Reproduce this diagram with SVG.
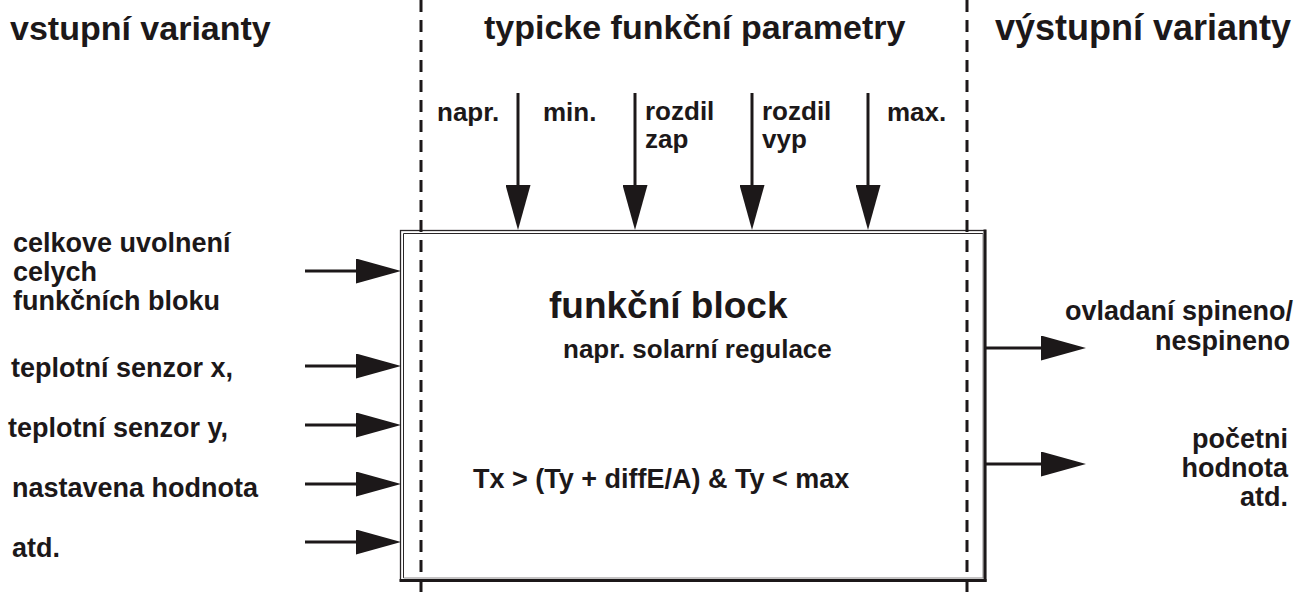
<svg xmlns="http://www.w3.org/2000/svg" width="1302" height="597" viewBox="0 0 1302 597">
<style>
text{font-family:"Liberation Sans",Arial,Helvetica,sans-serif;font-weight:bold;fill:#1c1819}
.t{font-size:34px}
.l{font-size:27px}
.p{font-size:26px}
.c{stroke:#1c1819;stroke-width:3;fill:none}
.d{stroke:#1c1819;stroke-width:3;fill:none;stroke-dasharray:12 8}
</style>
<defs>
<marker id="ah" markerUnits="userSpaceOnUse" markerWidth="45" markerHeight="25" refX="25" refY="12.5" orient="auto">
<path d="M0,0 L45,12.5 L0,25 Z" fill="#1c1819"/>
</marker>
</defs>
<rect width="1302" height="597" fill="#ffffff"/>
<g id="titles">
<text class="t" x="10" y="40">vstupní varianty</text>
<text class="t" x="484" y="39">typicke funkční parametry</text>
<text class="t" x="1291" y="40" text-anchor="end" style="font-size:36px">výstupní varianty</text>
</g>
<g id="block">
<rect x="400.5" y="230.5" width="585" height="350" fill="none" stroke="#2a2627" stroke-width="1.3"/>
<path d="M403.5,578 V233.5 H983" fill="none" stroke="#2a2627" stroke-width="1"/>
<path d="M403.5,578 H983 V233.5" fill="none" stroke="#8a8788" stroke-width="1"/>
<line x1="985" y1="229.5" x2="985" y2="582" stroke="#1c1819" stroke-width="3"/>
<line x1="399.5" y1="580.5" x2="986.5" y2="580.5" stroke="#1c1819" stroke-width="3"/>
<text x="549" y="318" style="font-size:37px">funkční block</text>
<text class="p" x="563" y="358">napr. solarní regulace</text>
<text class="l" x="473" y="488">Tx &gt; (Ty + diffE/A) &amp; Ty &lt; max</text>
</g>
<g id="inputs">
<text class="l" x="13" y="252">celkove uvolnení</text>
<text class="l" x="13" y="281">celych</text>
<text class="l" x="13" y="310">funkčních bloku</text>
<text class="l" x="11" y="377">teplotní senzor x,</text>
<text class="l" x="8" y="437">teplotní senzor y,</text>
<text class="l" x="12" y="497">nastavena hodnota</text>
<text class="l" x="12" y="557">atd.</text>
</g>
<g id="parameters">
<text class="p" x="437" y="121">napr.</text>
<text class="p" x="543" y="121">min.</text>
<text class="p" x="645" y="120">rozdil</text>
<text class="p" x="645" y="148">zap</text>
<text class="p" x="762" y="120">rozdil</text>
<text class="p" x="762" y="148">vyp</text>
<text class="p" x="887" y="121">max.</text>
</g>
<g id="outputs">
<text class="l" x="1293" y="320" text-anchor="end">ovladaní spineno/</text>
<text class="l" x="1290" y="350" text-anchor="end">nespineno</text>
<text class="l" x="1288" y="448" text-anchor="end">početni</text>
<text class="l" x="1288" y="477" text-anchor="end">hodnota</text>
<text class="l" x="1288" y="506" text-anchor="end">atd.</text>
</g>
<g id="connectors">
<line class="c" x1="518" y1="93" x2="518" y2="210" marker-end="url(#ah)"/>
<line class="c" x1="635" y1="93" x2="635" y2="210" marker-end="url(#ah)"/>
<line class="c" x1="752" y1="93" x2="752" y2="210" marker-end="url(#ah)"/>
<line class="c" x1="868" y1="93" x2="868" y2="210" marker-end="url(#ah)"/>
<line class="c" x1="305" y1="271" x2="381" y2="271" marker-end="url(#ah)"/>
<line class="c" x1="305" y1="366" x2="381" y2="366" marker-end="url(#ah)"/>
<line class="c" x1="305" y1="425" x2="381" y2="425" marker-end="url(#ah)"/>
<line class="c" x1="305" y1="484" x2="381" y2="484" marker-end="url(#ah)"/>
<line class="c" x1="305" y1="542" x2="381" y2="542" marker-end="url(#ah)"/>
<line class="c" x1="986" y1="348" x2="1066" y2="348" marker-end="url(#ah)"/>
<line class="c" x1="986" y1="464" x2="1066" y2="464" marker-end="url(#ah)"/>
</g>
<g id="dividers">
<line class="d" x1="421" y1="0" x2="421" y2="597"/>
<line class="d" x1="967" y1="0" x2="967" y2="597"/>
</g>
</svg>
